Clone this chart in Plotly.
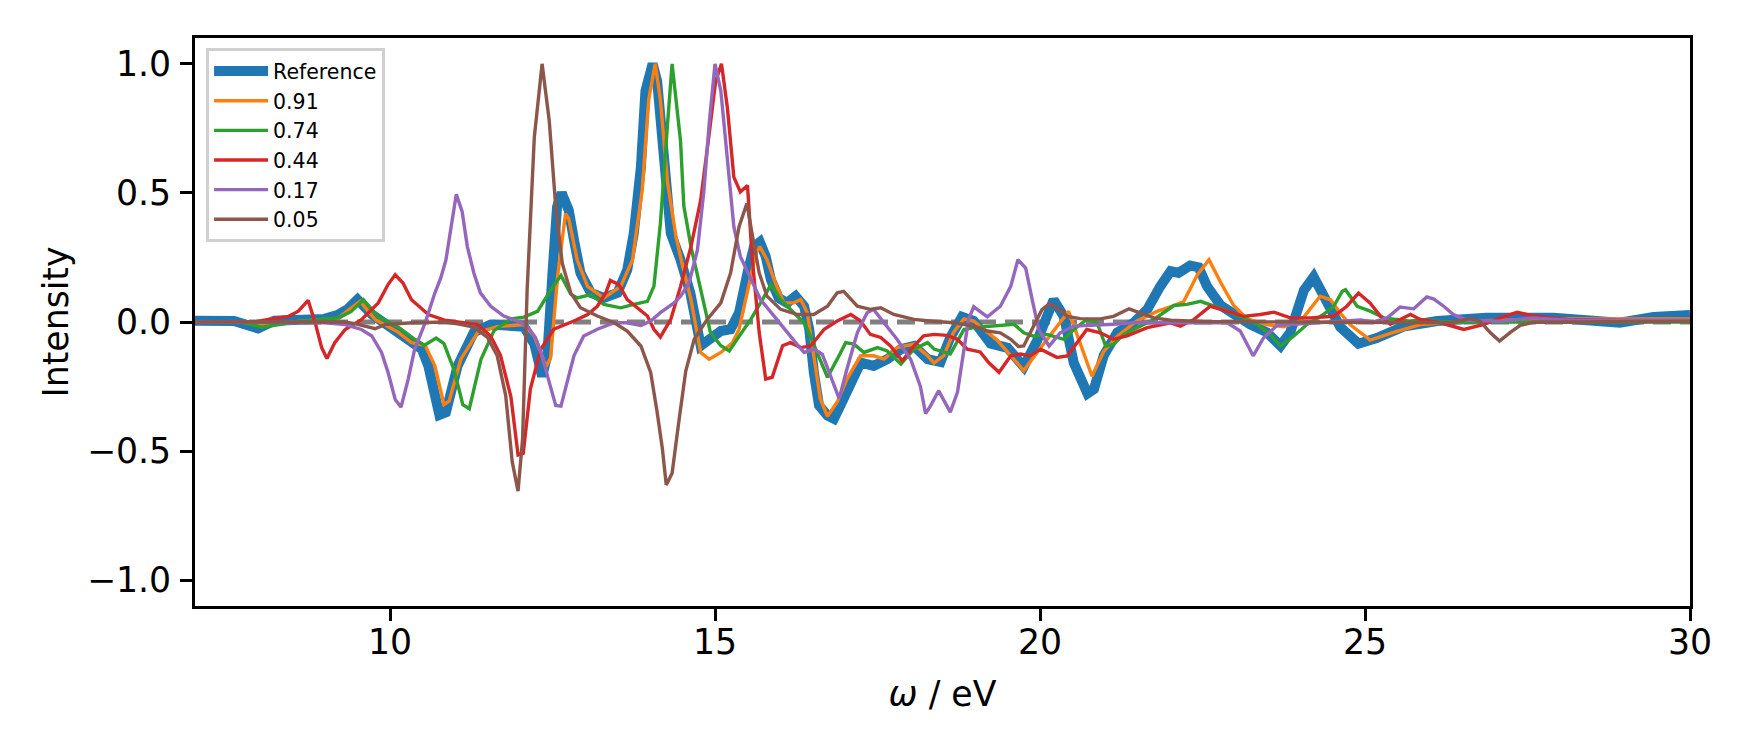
import plotly.graph_objects as go

# ---- data: (omega [eV], intensity) ----
ref_points = [
    (7.0, 0.005), (7.6, 0.004), (7.97, -0.025), (8.22, 0.005), (8.99, 0.012), (9.19, 0.027),
    (9.35, 0.05), (9.5, 0.087), (9.72, 0.03), (10.08, -0.03), (10.33, -0.073), (10.49, -0.105),
    (10.59, -0.17), (10.69, -0.27), (10.76, -0.36), (10.86, -0.35), (11.04, -0.17), (11.29, -0.04),
    (11.55, -0.01), (12.06, -0.018), (12.22, -0.085), (12.34, -0.21), (12.42, -0.13), (12.5, 0.19),
    (12.57, 0.446), (12.64, 0.5), (12.75, 0.433), (12.83, 0.318), (12.93, 0.19), (13.09, 0.113),
    (13.29, 0.093), (13.5, 0.113), (13.65, 0.202), (13.75, 0.343), (13.86, 0.6), (13.93, 0.895),
    (14.04, 1.0), (14.11, 0.933), (14.21, 0.638), (14.32, 0.343), (14.47, 0.241), (14.62, 0.113),
    (14.78, -0.092), (14.93, -0.067), (15.09, -0.035), (15.24, -0.028), (15.37, 0.036), (15.5, 0.19),
    (15.6, 0.292), (15.69, 0.31), (15.78, 0.254), (15.86, 0.164), (15.98, 0.093), (16.11, 0.074),
    (16.24, 0.1), (16.37, 0.061), (16.45, -0.028), (16.52, -0.195), (16.6, -0.323), (16.73, -0.362),
    (16.83, -0.375), (16.93, -0.323), (17.09, -0.234), (17.24, -0.157), (17.44, -0.17), (17.65, -0.144),
    (17.86, -0.105), (18.06, -0.093), (18.27, -0.144), (18.47, -0.155), (18.62, -0.06), (18.8, 0.02),
    (18.98, 0.004), (19.24, -0.084), (19.5, -0.1), (19.75, -0.173), (19.96, -0.07), (20.21, 0.086),
    (20.37, 0.02), (20.52, -0.159), (20.73, -0.277), (20.83, -0.26), (20.98, -0.13), (21.19, -0.04),
    (21.44, -0.003), (21.65, 0.049), (21.85, 0.138), (22.01, 0.197), (22.13, 0.19), (22.31, 0.219),
    (22.44, 0.212), (22.57, 0.138), (22.78, 0.064), (22.98, 0.027), (23.24, -0.01), (23.49, -0.04),
    (23.7, -0.092), (23.85, -0.04), (24.06, 0.123), (24.21, 0.175), (24.42, 0.064), (24.62, -0.02),
    (24.9, -0.084), (25.18, -0.062), (25.59, -0.018), (26.11, 0.004), (26.87, 0.016), (27.9, 0.016),
    (28.92, -0.003), (29.44, 0.019), (30.0, 0.027),
]

s091_points = [
    (7.0, 0.0), (7.8, 0.0), (8.1, -0.015), (8.5, 0.0), (9.2, 0.015), (9.54, 0.08), (9.77, 0.01),
    (10.13, -0.04), (10.33, -0.08), (10.54, -0.09), (10.69, -0.17), (10.83, -0.32), (10.91, -0.307),
    (11.09, -0.144), (11.35, -0.04), (11.65, -0.018), (12.06, -0.01), (12.22, -0.055), (12.4, -0.173),
    (12.47, -0.14), (12.58, 0.18), (12.7, 0.42), (12.75, 0.4), (12.88, 0.24), (13.04, 0.138),
    (13.29, 0.093), (13.55, 0.138), (13.73, 0.24), (13.88, 0.51), (13.98, 0.86), (14.08, 1.0),
    (14.16, 0.86), (14.27, 0.54), (14.4, 0.33), (14.5, 0.22), (14.63, 0.087), (14.78, -0.118),
    (14.91, -0.144), (15.09, -0.118), (15.27, -0.08), (15.37, -0.028), (15.5, 0.113), (15.63, 0.267),
    (15.69, 0.292), (15.8, 0.241), (15.93, 0.151), (16.06, 0.074), (16.21, 0.074), (16.32, 0.087),
    (16.42, 0.036), (16.52, -0.131), (16.62, -0.297), (16.73, -0.365), (16.88, -0.31), (17.03, -0.221),
    (17.24, -0.131), (17.44, -0.131), (17.6, -0.144), (17.8, -0.099), (18.06, -0.086), (18.27, -0.131),
    (18.37, -0.159), (18.52, -0.13), (18.67, -0.04), (18.83, 0.012), (18.98, 0.004), (19.34, -0.07),
    (19.55, -0.13), (19.75, -0.188), (20.01, -0.1), (20.21, -0.033), (20.44, 0.041), (20.62, -0.084),
    (20.8, -0.21), (20.98, -0.114), (21.19, -0.055), (21.49, 0.004), (21.8, 0.041), (22.06, 0.064),
    (22.21, 0.079), (22.42, 0.182), (22.6, 0.241), (22.78, 0.153), (22.98, 0.064), (23.19, 0.012),
    (23.49, -0.01), (23.75, -0.018), (24.01, 0.004), (24.31, 0.1), (24.47, 0.086), (24.62, 0.034),
    (24.77, -0.01), (25.08, -0.07), (25.44, -0.04), (25.85, -0.01), (26.62, 0.004), (27.9, 0.012),
    (30.0, 0.012),
]

s074_points = [
    (7.0, 0.0), (7.7, 0.0), (8.03, -0.02), (8.54, 0.0), (9.2, 0.016), (9.4, 0.04), (9.59, 0.086),
    (9.82, 0.02), (10.13, -0.02), (10.38, -0.067), (10.53, -0.09), (10.71, -0.062), (10.83, -0.084),
    (10.99, -0.188), (11.12, -0.32), (11.22, -0.336), (11.4, -0.144), (11.6, -0.033), (11.86, 0.012),
    (12.06, 0.019), (12.27, 0.041), (12.47, 0.123), (12.63, 0.18), (12.78, 0.108), (12.88, 0.093),
    (13.09, 0.106), (13.29, 0.068), (13.55, 0.055), (13.75, 0.068), (13.96, 0.08), (14.06, 0.138),
    (14.16, 0.382), (14.27, 0.767), (14.34, 1.0), (14.47, 0.7), (14.52, 0.45), (14.63, 0.292),
    (14.78, 0.125), (14.93, -0.041), (15.09, -0.092), (15.22, -0.112), (15.34, -0.067), (15.55, 0.01),
    (15.73, 0.087), (15.86, 0.145), (16.01, 0.087), (16.21, 0.036), (16.39, -0.009), (16.57, -0.118),
    (16.73, -0.214), (16.88, -0.144), (17.01, -0.08), (17.14, -0.086), (17.29, -0.118), (17.5, -0.099),
    (17.65, -0.112), (17.86, -0.163), (18.06, -0.105), (18.27, -0.08), (18.37, -0.105), (18.62, -0.124),
    (18.83, -0.029), (18.98, -0.022), (19.39, -0.015), (19.6, -0.009), (19.75, -0.042), (19.9, -0.055),
    (20.11, -0.048), (20.37, -0.067), (20.52, -0.029), (20.72, 0.01), (20.88, -0.004), (21.01, -0.093),
    (21.13, -0.087), (21.29, -0.048), (21.55, -0.015), (21.75, 0.01), (22.06, 0.064), (22.26, 0.068),
    (22.47, 0.08), (22.62, 0.068), (22.83, 0.048), (23.08, 0.022), (23.34, -0.009), (23.54, -0.048),
    (23.7, -0.093), (23.9, -0.055), (24.11, -0.009), (24.36, 0.029), (24.52, 0.061), (24.65, 0.119),
    (24.7, 0.125), (24.88, 0.061), (25.08, 0.042), (25.29, 0.016), (25.7, 0.003), (25.85, 0.01),
    (26.2, 0.0), (30.0, 0.0),
]

s044_points = [
    (7.0, 0.0), (7.9, 0.0), (8.13, 0.01), (8.44, 0.022), (8.59, 0.042), (8.74, 0.084), (8.85, -0.004),
    (8.95, -0.1), (9.03, -0.141), (9.15, -0.08), (9.31, -0.029), (9.56, 0.009), (9.82, 0.074),
    (9.97, 0.145), (10.08, 0.183), (10.2, 0.151), (10.33, 0.086), (10.59, 0.029), (10.84, 0.007),
    (11.35, -0.01), (11.55, -0.055), (11.7, -0.129), (11.86, -0.29), (11.97, -0.515), (12.05, -0.508),
    (12.16, -0.259), (12.32, -0.105), (12.52, -0.028), (12.83, 0.004), (13.04, 0.029), (13.19, 0.061),
    (13.32, 0.113), (13.39, 0.161), (13.52, 0.145), (13.65, 0.087), (13.8, 0.055), (13.96, 0.023),
    (14.06, -0.028), (14.16, -0.058), (14.32, 0.01), (14.47, 0.138), (14.63, 0.292), (14.78, 0.472),
    (14.91, 0.728), (15.01, 0.933), (15.1, 1.0), (15.19, 0.831), (15.29, 0.561), (15.39, 0.504),
    (15.5, 0.529), (15.57, 0.254), (15.68, -0.041), (15.78, -0.221), (15.88, -0.214), (16.04, -0.092),
    (16.16, -0.08), (16.32, -0.099), (16.47, -0.093), (16.68, -0.028), (16.88, 0.004), (17.09, 0.029),
    (17.24, 0.004), (17.39, -0.048), (17.55, -0.06), (17.7, -0.093), (17.88, -0.15), (18.06, -0.093),
    (18.21, -0.054), (18.37, -0.048), (18.57, -0.052), (18.73, -0.067), (18.88, -0.105), (19.08, -0.116),
    (19.21, -0.157), (19.37, -0.195), (19.55, -0.131), (19.7, -0.124), (19.85, -0.131), (20.01, -0.105),
    (20.26, -0.137), (20.42, -0.131), (20.57, -0.08), (20.72, -0.029), (20.93, -0.042), (21.13, -0.067),
    (21.34, -0.054), (21.65, -0.022), (22.01, -0.003), (22.16, -0.016), (22.37, 0.01), (22.62, 0.061),
    (22.88, 0.042), (23.13, 0.022), (23.39, 0.029), (23.6, 0.038), (23.85, 0.016), (24.16, 0.016),
    (24.52, 0.022), (24.72, 0.061), (24.9, 0.112), (25.08, 0.073), (25.24, 0.022), (25.39, -0.009),
    (25.54, 0.01), (25.7, 0.029), (25.85, 0.01), (26.16, -0.003), (26.52, -0.029), (26.82, -0.01),
    (27.08, 0.016), (27.34, 0.038), (27.59, 0.023), (28.11, 0.01), (30.0, 0.003),
]

s017_points = [
    (7.0, 0.0), (9.0, -0.003), (9.31, -0.01), (9.56, -0.029), (9.72, -0.054), (9.87, -0.118),
    (9.97, -0.195), (10.08, -0.3), (10.17, -0.33), (10.28, -0.221), (10.38, -0.105), (10.54, -0.004),
    (10.69, 0.112), (10.78, 0.17), (10.86, 0.24), (10.93, 0.356), (11.02, 0.495), (11.11, 0.427),
    (11.19, 0.292), (11.29, 0.19), (11.39, 0.113), (11.55, 0.061), (11.75, 0.023), (11.96, 0.004),
    (12.11, -0.016), (12.24, -0.061), (12.34, -0.131), (12.45, -0.234), (12.55, -0.323), (12.63, -0.326),
    (12.73, -0.234), (12.83, -0.131), (12.98, -0.054), (13.19, -0.028), (13.45, -0.003), (13.65, -0.003),
    (13.86, -0.013), (14.01, 0.004), (14.16, 0.036), (14.37, 0.074), (14.47, 0.1), (14.6, 0.151),
    (14.73, 0.279), (14.83, 0.51), (14.91, 0.766), (15.0, 1.0), (15.09, 0.895), (15.19, 0.638),
    (15.29, 0.369), (15.39, 0.254), (15.55, 0.164), (15.7, 0.087), (15.91, 0.023), (16.11, -0.041),
    (16.24, -0.08), (16.37, -0.118), (16.52, -0.105), (16.65, -0.125), (16.78, -0.208), (16.91, -0.297),
    (17.03, -0.182), (17.19, -0.041), (17.34, 0.036), (17.44, 0.049), (17.6, -0.003), (17.8, -0.067),
    (18.01, -0.144), (18.16, -0.25), (18.24, -0.355), (18.32, -0.323), (18.44, -0.266), (18.62, -0.349),
    (18.73, -0.272), (18.83, -0.093), (18.9, 0.009), (18.98, 0.059), (19.19, 0.02), (19.39, 0.061),
    (19.55, 0.138), (19.66, 0.241), (19.78, 0.209), (19.88, 0.087), (19.98, -0.029), (20.14, -0.093),
    (20.31, -0.042), (20.52, -0.016), (20.83, -0.013), (21.13, -0.009), (21.44, -0.003), (22.88, -0.003),
    (23.08, -0.035), (23.28, -0.131), (23.44, -0.061), (23.65, -0.013), (23.9, -0.009), (24.42, 0.0),
    (24.93, 0.008), (25.13, 0.0), (25.34, 0.016), (25.54, 0.058), (25.75, 0.051), (25.95, 0.097),
    (26.06, 0.089), (26.21, 0.061), (26.36, 0.029), (26.57, 0.007), (27.08, 0.003), (27.59, 0.016),
    (28.11, 0.007), (30.0, 0.007),
]

s005_points = [
    (7.0, 0.0), (9.3, 0.0), (9.46, -0.006), (9.77, -0.026), (9.92, -0.01), (10.28, -0.004), (10.84, 0.0),
    (11.04, -0.007), (11.29, -0.02), (11.5, -0.06), (11.65, -0.131), (11.78, -0.285), (11.88, -0.541),
    (11.97, -0.655), (12.04, -0.452), (12.11, 0.125), (12.22, 0.715), (12.34, 1.0), (12.45, 0.779),
    (12.55, 0.446), (12.65, 0.228), (12.78, 0.113), (12.93, 0.055), (13.19, 0.023), (13.45, -0.003),
    (13.65, -0.035), (13.86, -0.093), (14.01, -0.195), (14.11, -0.349), (14.19, -0.49), (14.25, -0.631),
    (14.34, -0.586), (14.45, -0.374), (14.55, -0.19), (14.68, -0.067), (14.88, 0.01), (15.09, 0.074),
    (15.24, 0.19), (15.37, 0.369), (15.49, 0.459), (15.57, 0.343), (15.68, 0.19), (15.8, 0.1),
    (16.01, 0.049), (16.27, 0.029), (16.52, 0.029), (16.73, 0.061), (16.88, 0.113), (16.98, 0.119),
    (17.19, 0.061), (17.39, 0.049), (17.55, 0.055), (17.75, 0.029), (18.06, 0.01), (18.31, 0.004),
    (18.67, -0.003), (18.98, -0.016), (19.19, -0.035), (19.39, -0.042), (19.55, -0.067), (19.67, -0.095),
    (19.75, -0.093), (19.9, -0.016), (20.03, 0.048), (20.14, 0.07), (20.26, 0.055), (20.42, 0.022),
    (20.62, 0.013), (20.93, 0.012), (21.13, 0.022), (21.37, 0.051), (21.55, 0.035), (21.75, 0.016),
    (22.01, 0.007), (22.5, 0.002), (26.31, -0.003), (26.62, 0.013), (26.77, 0.003), (26.93, -0.042),
    (27.07, -0.074), (27.24, -0.039), (27.39, -0.013), (27.59, -0.001), (30.0, 0.003),
]

series_names = ["Reference", "0.91", "0.74", "0.44", "0.17", "0.05"]
series_points = [ref_points, s091_points, s074_points, s044_points, s017_points, s005_points]
series_colors = ["#1f77b4", "#ff7f0e", "#2ca02c", "#d62728", "#9467bd", "#8c564b"]
series_widths = [10, 3.4, 3.4, 3.4, 3.4, 3.4]

x_ticks = [10, 15, 20, 25, 30]
y_ticks = [-1.0, -0.5, 0.0, 0.5, 1.0]
y_tick_text = ["\u22121.0", "\u22120.5", "0.0", "0.5", "1.0"]

FONT = "DejaVu Sans"

fig = go.Figure()
for name, pts, col, w in zip(series_names, series_points, series_colors, series_widths):
    xs = [p[0] for p in pts]
    ys = [p[1] for p in pts]
    fig.add_trace(go.Scatter(x=xs, y=ys, mode="lines", name=name,
                             line=dict(color=col, width=w)))

fig.add_hline(y=0, line=dict(color="#808080", width=5, dash="18px,9px"), layer="below")

# the page body has an 8px default margin, so the figure is 8px smaller
fig.update_layout(
    width=1742, height=742,
    margin=dict(l=187, r=60, t=30, b=144),
    paper_bgcolor="white", plot_bgcolor="white",
    font=dict(family=FONT, color="black", size=34.7),
    showlegend=True,
    legend=dict(x=0.0074, y=0.982, xanchor="left", yanchor="top",
                bgcolor="rgba(255,255,255,0.8)", bordercolor="#d0d0d0", borderwidth=3,
                font=dict(family=FONT, size=20.5, color="black"),
                itemwidth=54, tracegroupgap=0),
)
fig.update_xaxes(range=[7, 30], tickvals=x_ticks, ticktext=[str(v) for v in x_ticks],
                 showgrid=False, zeroline=False,
                 showline=True, mirror=True, linecolor="black", linewidth=2.8,
                 ticks="outside", ticklen=12, tickwidth=2.8, tickcolor="black",
                 tickfont=dict(family=FONT, size=34.7), ticklabelstandoff=-9,
                 title=dict(text="<i>ω</i> / eV", font=dict(family=FONT, size=34.7), standoff=22))
fig.update_yaxes(range=[-1.1, 1.1], tickvals=y_ticks, ticktext=y_tick_text,
                 showgrid=False, zeroline=False,
                 showline=True, mirror=True, linecolor="black", linewidth=2.8,
                 ticks="outside", ticklen=12, tickwidth=2.8, tickcolor="black",
                 tickfont=dict(family=FONT, size=34.7), ticklabelstandoff=2,
                 title=dict(text="Intensity", font=dict(family=FONT, size=34.7), standoff=8))

fig.write_html("out.html")
